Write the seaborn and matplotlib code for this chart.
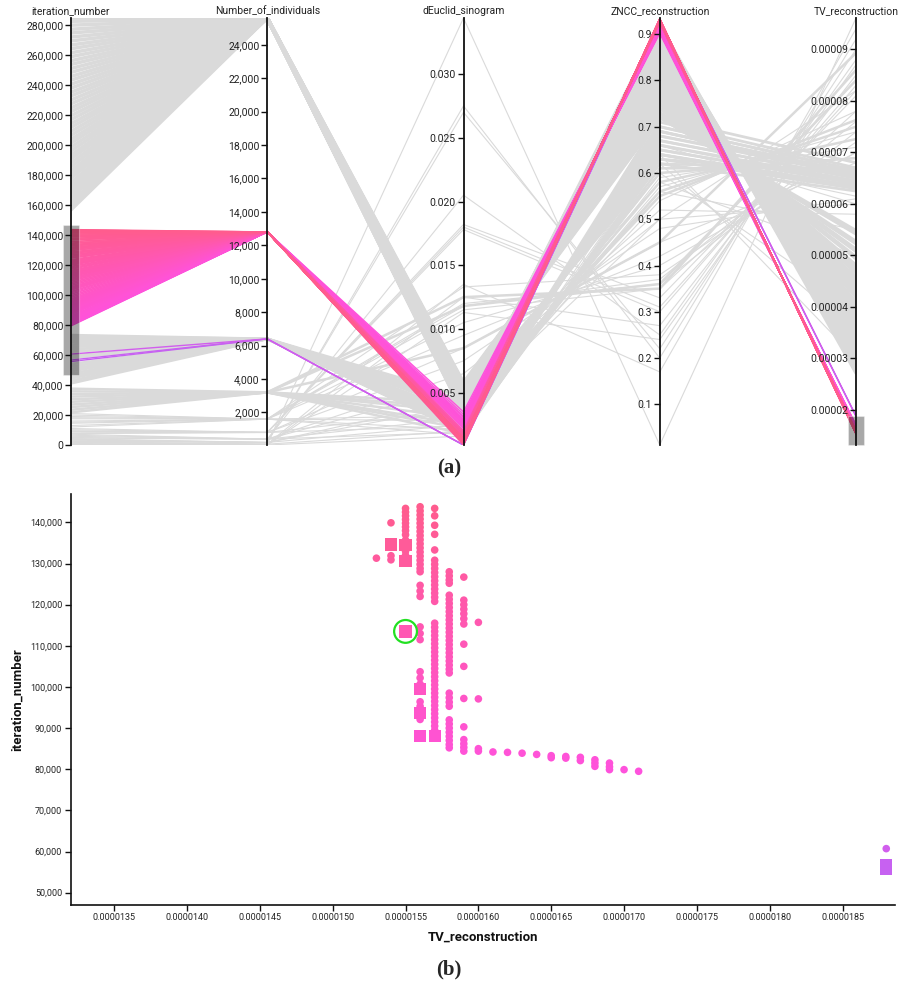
import numpy as np
import pandas as pd
import matplotlib
matplotlib.use("Agg")
import matplotlib.pyplot as plt
import matplotlib.patches as mpatches
from matplotlib.colors import LinearSegmentedColormap, Normalize
from matplotlib.ticker import FixedLocator, FuncFormatter
import seaborn as sns

# ---------------------------------------------------------------- data
dims = ["iteration_number", "Number_of_individuals", "dEuclid_sinogram",
        "ZNCC_reconstruction", "TV_reconstruction"]
axis_min = [0, 50, 0.0009, 0.012, 0.0000132]
axis_max = [285000, 25600, 0.0344, 0.935, 0.0000961]
ticks_iter = [0, 20000, 40000, 60000, 80000, 100000, 120000, 140000, 160000,
              180000, 200000, 220000, 240000, 260000, 280000]
ticks_pop = [2000, 4000, 6000, 8000, 10000, 12000, 14000, 16000, 18000, 20000,
             22000, 24000]
ticks_deuclid = [0.005, 0.010, 0.015, 0.020, 0.025, 0.030]
ticks_zncc = [0.1, 0.2, 0.3, 0.4, 0.5, 0.6, 0.7, 0.8, 0.9]
ticks_tv = [0.00002, 0.00003, 0.00004, 0.00005, 0.00006, 0.00007, 0.00008, 0.00009]

# brushed (selected) ranges
iter_brush = [47000, 146900]
tv_brush = [0.0000132, 0.00001886]

# selected runs (shown in the scatter): one column per TV value
tv_columns = [0.0000153, 0.0000154, 0.0000155, 0.0000156, 0.0000157, 0.0000158,
              0.0000159, 0.0000160, 0.0000161, 0.0000162, 0.0000163, 0.0000164,
              0.0000165, 0.0000166, 0.0000167, 0.0000168, 0.0000169, 0.0000170,
              0.0000171, 0.0000188]
population_by_column = [12800, 12800, 12800, 12800, 12800, 12800, 12800, 12800,
                        12800, 12800, 12800, 12800, 12800, 12800, 12800, 12800,
                        12800, 12800, 12800, 6400]
deuclid_by_column = [0.0009, 0.0010, 0.0011, 0.0012, 0.0014, 0.0016, 0.0018, 0.0020,
                     0.0022, 0.0023, 0.0024, 0.0025, 0.0026, 0.0027, 0.0028, 0.0029,
                     0.0031, 0.0033, 0.0035, 0.0009]
zncc_by_column = [0.934, 0.933, 0.932, 0.931, 0.930, 0.928, 0.926, 0.924, 0.922,
                  0.920, 0.918, 0.916, 0.914, 0.912, 0.910, 0.908, 0.906, 0.904,
                  0.902, 0.925]
iter_circles = [
    [131300],
    [139900, 131900, 130900],
    [143400, 142500, 141600, 140700, 139800, 138900, 138000, 137000, 135700,
     133000, 132000],
    [143800, 142800, 141800, 140800, 139800, 138800, 137800, 136800, 135800,
     134800, 133800, 132800, 131800, 130800, 129800, 128800, 128000, 124700,
     123300, 122000, 114600, 113000, 111500, 103700, 102200, 100700, 96400,
     95300, 94300, 93000, 92100],
    [143400, 141600, 139300, 137100, 133300, 130800, 129800, 128800, 127800,
     126800, 125800, 124800, 123800, 122800, 121800, 120800, 115500, 114500,
     113500, 112500, 111500, 110500, 109500, 108500, 107500, 106500, 105500,
     104500, 103500, 102500, 101500, 100500, 99500, 98500, 97500, 96500, 95500,
     94500, 93500, 92500, 91500, 90500, 89500, 88800],
    [128000, 127000, 126000, 125200, 122300, 121300, 120300, 119300, 118300,
     117300, 116300, 115300, 114300, 113300, 112300, 111300, 110300, 109300,
     108300, 107300, 106300, 105300, 104300, 103400, 98500, 97400, 96300, 95300,
     92000, 91000, 90000, 89000, 88000, 87000, 86000, 85200],
    [126700, 121100, 120000, 118900, 117800, 116600, 115300, 110400, 105000,
     97200, 90300, 87200, 86200, 85300, 84400],
    [115700, 97100, 85000, 84400],
    [84200],
    [84100],
    [83900],
    [83600],
    [83300, 82800],
    [83100, 82700],
    [82900, 82100],
    [82300, 81500, 80700],
    [81500, 80600, 79900],
    [79900],
    [79500],
    [60700],
]
iter_squares = [
    [], [134600], [134500, 130700, 113500], [99500, 93700, 88000], [88000],
    [], [], [], [], [], [], [], [], [], [], [], [], [], [], [56700, 55700],
]
selected_tv = 0.0000155
selected_iter = 113500

# non-selected runs (grey), grouped by population size
iter_A = [157000, 159500, 162000, 164800, 167500, 170000, 172600, 175200, 178000,
          180500, 183000, 185700, 188300, 191000, 193500, 196200, 198800, 201500,
          204000, 206700, 209300, 212000, 214500, 217200, 219800, 222500, 225000,
          227700, 230300, 233000, 235500, 238200, 240800, 243500, 246000, 248700,
          251300, 254000, 256500, 259200, 261800, 264500, 267000, 269700, 272300,
          275000, 277500, 280200, 282800, 285000]
pop_A = 25600
deuclid_A = [0.0049, 0.0034, 0.0042, 0.0055, 0.0037, 0.0046, 0.0035, 0.0058, 0.0040,
             0.0051, 0.0033, 0.0044, 0.0053, 0.0038, 0.0048, 0.0036, 0.0056, 0.0041,
             0.0050, 0.0034, 0.0045, 0.0057, 0.0039, 0.0047, 0.0036, 0.0043, 0.0054,
             0.0040, 0.0049, 0.0035, 0.0044, 0.0056, 0.0038, 0.0046, 0.0034, 0.0042,
             0.0052, 0.0039, 0.0050, 0.0036, 0.0045, 0.0041, 0.0055, 0.0037, 0.0048,
             0.0035, 0.0043, 0.0053, 0.0038, 0.0047]
zncc_A = [0.78, 0.91, 0.84, 0.74, 0.89, 0.81, 0.90, 0.72, 0.86, 0.77, 0.92, 0.83,
          0.75, 0.88, 0.79, 0.90, 0.73, 0.85, 0.77, 0.91, 0.82, 0.72, 0.87, 0.79,
          0.89, 0.83, 0.75, 0.86, 0.78, 0.91, 0.83, 0.73, 0.88, 0.80, 0.90, 0.84,
          0.76, 0.87, 0.77, 0.89, 0.82, 0.85, 0.74, 0.88, 0.79, 0.91, 0.81, 0.76,
          0.87, 0.80]
tv_A = [0.0000457, 0.0000296, 0.0000386, 0.0000512, 0.0000322, 0.0000421,
        0.0000310, 0.0000548, 0.0000361, 0.0000470, 0.0000272, 0.0000398,
        0.0000494, 0.0000338, 0.0000443, 0.0000314, 0.0000527, 0.0000374,
        0.0000466, 0.0000302, 0.0000409, 0.0000542, 0.0000350, 0.0000446,
        0.0000326, 0.0000394, 0.0000497, 0.0000358, 0.0000454, 0.0000284,
        0.0000399, 0.0000523, 0.0000334, 0.0000433, 0.0000313, 0.0000382,
        0.0000481, 0.0000346, 0.0000469, 0.0000327, 0.0000406, 0.0000371,
        0.0000508, 0.0000339, 0.0000442, 0.0000298, 0.0000419, 0.0000478,
        0.0000351, 0.0000430]

iter_B = [41200, 42800, 44500, 46000, 47600, 49300, 50800, 52400, 54000, 58200,
          59600, 62300, 63900, 65500, 67000, 68600, 70200, 71500, 72600, 73300]
pop_B = 6400
deuclid_B = [0.0031, 0.0021, 0.0042, 0.0024, 0.0036, 0.0019, 0.0047, 0.0027, 0.0020,
             0.0039, 0.0023, 0.0033, 0.0019, 0.0044, 0.0025, 0.0038, 0.0020, 0.0029,
             0.0041, 0.0022]
zncc_B = [0.66, 0.70, 0.64, 0.68, 0.65, 0.69, 0.62, 0.67, 0.71, 0.64, 0.69, 0.66,
          0.70, 0.63, 0.68, 0.65, 0.72, 0.67, 0.64, 0.69]
tv_B = [0.0000645, 0.0000665, 0.0000630, 0.0000660, 0.0000640, 0.0000655, 0.0000625,
        0.0000650, 0.0000670, 0.0000635, 0.0000660, 0.0000640, 0.0000665, 0.0000630,
        0.0000655, 0.0000640, 0.0000680, 0.0000650, 0.0000635, 0.0000660]

iter_C = [21800, 23500, 25300, 27000, 28800, 30500, 32300, 34000, 35800, 37600]
pop_C = 3200
deuclid_C = [0.0035, 0.0018, 0.0042, 0.0025, 0.0118, 0.0030, 0.0125, 0.0022, 0.0085,
             0.0038]
zncc_C = [0.58, 0.63, 0.55, 0.61, 0.36, 0.60, 0.35, 0.62, 0.45, 0.56]
tv_C = [0.0000726, 0.0000658, 0.0000763, 0.0000670, 0.0000840, 0.0000689,
        0.0000860, 0.0000665, 0.0000893, 0.0000750]

iter_D = [21000, 20000, 19000, 18200, 17500, 16000, 15200, 14500, 13000, 12000,
          11000, 10200, 9500, 9000, 8800, 8000, 7600, 7200, 6500, 5800, 5000, 4600,
          4200, 3800, 3300, 2800, 2500, 2200, 1800, 1500, 1000, 600, 300]
pop_D = [1600, 1600, 1600, 1600, 1600, 1600, 1600, 1600, 1600, 1600, 800, 800, 800,
         800, 800, 800, 800, 400, 400, 400, 400, 400, 200, 200, 200, 200, 200, 100,
         100, 100, 50, 50, 50]
deuclid_D = [0.0133, 0.0021, 0.0120, 0.0028, 0.0118, 0.0115, 0.0017, 0.0105,
             0.0095, 0.0032, 0.0182, 0.0180, 0.0178, 0.0024, 0.0085, 0.0075, 0.0036,
             0.0205, 0.0065, 0.0055, 0.0030, 0.0019, 0.0275, 0.0270, 0.0045, 0.0025,
             0.0040, 0.0344, 0.0020, 0.0135, 0.0016, 0.0125, 0.0113]
zncc_D = [0.38, 0.64, 0.36, 0.60, 0.37, 0.35, 0.66, 0.40, 0.42, 0.57, 0.33, 0.31,
          0.30, 0.59, 0.45, 0.48, 0.54, 0.25, 0.50, 0.52, 0.56, 0.61, 0.20, 0.22,
          0.58, 0.60, 0.50, 0.012, 0.62, 0.17, 0.64, 0.27, 0.24]
tv_D = [0.0000720, 0.0000615, 0.0000740, 0.0000690, 0.0000760, 0.0000780,
        0.0000600, 0.0000700, 0.0000700, 0.0000740, 0.0000810, 0.0000820,
        0.0000830, 0.0000710, 0.0000680, 0.0000610, 0.0000780, 0.0000880,
        0.0000600, 0.0000580, 0.0000550, 0.0000670, 0.0000920, 0.0000900,
        0.0000500, 0.0000400, 0.0000820, 0.0000961, 0.0000350, 0.0000940,
        0.0000300, 0.0000850, 0.0000870]

# colour scale for the selected runs (by iteration_number)
hue_stop_values = [55000, 80000, 143800]
hue_stop_colors = ["#C462F2", "#FF52DC", "#FF5C8E"]

# ---------------------------------------------------------------- frames
sel_rows = []
for tv, pop, de, zn, circ, sq in zip(tv_columns, population_by_column,
                                     deuclid_by_column, zncc_by_column,
                                     iter_circles, iter_squares):
    for it in circ:
        sel_rows.append((it, pop, de, zn, tv, "circle"))
    for it in sq:
        sel_rows.append((it, pop, de, zn, tv, "square"))
sel = pd.DataFrame(sel_rows, columns=dims + ["shape"])
sel = sel.sort_values("iteration_number").reset_index(drop=True)

grey_parts = [
    (pd.DataFrame({dims[0]: iter_A, dims[1]: pop_A, dims[2]: deuclid_A,
                   dims[3]: zncc_A, dims[4]: tv_A}), 2.5),
    (pd.DataFrame({dims[0]: iter_B, dims[1]: pop_B, dims[2]: deuclid_B,
                   dims[3]: zncc_B, dims[4]: tv_B}), 2.0),
    (pd.DataFrame({dims[0]: iter_C, dims[1]: pop_C, dims[2]: deuclid_C,
                   dims[3]: zncc_C, dims[4]: tv_C}), 1.8),
    (pd.DataFrame({dims[0]: iter_D, dims[1]: pop_D, dims[2]: deuclid_D,
                   dims[3]: zncc_D, dims[4]: tv_D}), 0.8),
]


def to_long(df):
    recs = []
    for run, row in df.iterrows():
        for k, d in enumerate(dims):
            norm = (row[d] - axis_min[k]) / (axis_max[k] - axis_min[k])
            recs.append((run, k, norm, row[dims[0]]))
    return pd.DataFrame(recs, columns=["run", "axis", "norm", "iteration_number"])


sel_long = to_long(sel)

lo, hi = hue_stop_values[0], hue_stop_values[-1]
cmap = LinearSegmentedColormap.from_list(
    "sel", [((v - lo) / (hi - lo), c) for v, c in zip(hue_stop_values, hue_stop_colors)])
hnorm = Normalize(lo, hi)

# ---------------------------------------------------------------- figure
sns.set_theme(style="white")
plt.rcParams["font.family"] = ["Roboto", "DejaVu Sans"]
W, H = 898, 985
fig = plt.figure(figsize=(W / 100, H / 100), dpi=100)

# ---- (a) parallel coordinates
px_left, px_right, px_top, px_bot = 71, 856, 18, 445
ax_pc = fig.add_axes([px_left / W, 1 - px_bot / H, (px_right - px_left) / W,
                      (px_bot - px_top) / H])
for part, lw in grey_parts:
    sns.lineplot(data=to_long(part), x="axis", y="norm", units="run",
                 estimator=None, color="#dadada", linewidth=lw, ax=ax_pc,
                 legend=False)
sns.lineplot(data=sel_long, x="axis", y="norm", units="run", estimator=None,
             hue="iteration_number", palette=cmap, hue_norm=hnorm, linewidth=1.0,
             ax=ax_pc, legend=False)
ax_pc.set_xlim(0, 4)
ax_pc.set_ylim(0, 1)
ax_pc.set_axis_off()

tick_sets = [ticks_iter, ticks_pop, ticks_deuclid, ticks_zncc, ticks_tv]
fmts = [lambda v, p: f"{v:,.0f}", lambda v, p: f"{v:,.0f}",
        lambda v, p: f"{v:.3f}", lambda v, p: f"{v:.1f}", lambda v, p: f"{v:.5f}"]
step = (px_right - px_left) / 4
for k in range(5):
    xpx = px_left + k * step
    a = fig.add_axes([xpx / W, 1 - px_bot / H, 0.0001, (px_bot - px_top) / H])
    a.set_ylim(axis_min[k], axis_max[k])
    a.patch.set_visible(False)
    for s in ["top", "right", "bottom"]:
        a.spines[s].set_visible(False)
    a.spines["left"].set_color("#111111")
    a.spines["left"].set_linewidth(1.3)
    a.set_xticks([])
    a.yaxis.set_major_locator(FixedLocator(tick_sets[k]))
    a.yaxis.set_major_formatter(FuncFormatter(fmts[k]))
    a.tick_params(axis="y", left=True, length=4, width=1.0, color="#111111",
                  labelsize=7.5, pad=1.5, labelcolor="#222222")
    a.grid(False)
    fig.text(xpx / W, 1 - 11 / H, dims[k], ha="center", va="center",
             fontsize=7.5, color="#222222")

half_w = 8 / step
for k, (b0, b1) in [(0, iter_brush), (4, tv_brush)]:
    n0 = (b0 - axis_min[k]) / (axis_max[k] - axis_min[k])
    n1 = (b1 - axis_min[k]) / (axis_max[k] - axis_min[k])
    ax_pc.add_patch(mpatches.Rectangle((k - half_w, n0), 2 * half_w, n1 - n0,
                                       facecolor="#000000", alpha=0.34,
                                       edgecolor="#ffffff", lw=0.8,
                                       clip_on=False, zorder=5))

# ---- (b) scatter
sx_left, sx_right, sy_top, sy_bot = 70.5, 895, 494, 905
ax_sc = fig.add_axes([sx_left / W, 1 - sy_bot / H, (sx_right - sx_left) / W,
                      (sy_bot - sy_top) / H])
circ_df = sel[sel["shape"] == "circle"]
sq_df = sel[sel["shape"] == "square"]
sns.scatterplot(data=circ_df, x="TV_reconstruction", y="iteration_number",
                hue="iteration_number", palette=cmap, hue_norm=hnorm, marker="o",
                s=30, linewidth=0, legend=False, ax=ax_sc)
sns.scatterplot(data=sq_df, x="TV_reconstruction", y="iteration_number",
                hue="iteration_number", palette=cmap, hue_norm=hnorm, marker="s",
                s=78, linewidth=0, legend=False, ax=ax_sc)
ax_sc.scatter([selected_tv], [selected_iter], s=270, facecolors="none",
              edgecolors="#22e022", linewidths=1.6, zorder=6)
ax_sc.set_xlim(tv_brush)
ax_sc.set_ylim(iter_brush)
ax_sc.xaxis.set_major_locator(FixedLocator(
    [0.0000135, 0.0000140, 0.0000145, 0.0000150, 0.0000155, 0.0000160,
     0.0000165, 0.0000170, 0.0000175, 0.0000180, 0.0000185]))
ax_sc.xaxis.set_major_formatter(FuncFormatter(lambda v, p: f"{v:.7f}"))
ax_sc.yaxis.set_major_locator(FixedLocator(
    [50000, 60000, 70000, 80000, 90000, 100000, 110000, 120000, 130000, 140000]))
ax_sc.yaxis.set_major_formatter(FuncFormatter(lambda v, p: f"{v:,.0f}"))
for s in ["top", "right"]:
    ax_sc.spines[s].set_visible(False)
for s in ["left", "bottom"]:
    ax_sc.spines[s].set_color("#111111")
    ax_sc.spines[s].set_linewidth(1.2)
ax_sc.tick_params(axis="both", length=4, width=1.0, color="#111111",
                  labelsize=6.5, pad=2, labelcolor="#222222", left=True,
                  bottom=True)
ax_sc.grid(False)
ax_sc.set_xlabel("TV_reconstruction", fontsize=9.5, fontweight="bold",
                 labelpad=6, color="#111111")
ax_sc.set_ylabel("iteration_number", fontsize=9.5, fontweight="bold",
                 labelpad=4, color="#111111")

fig.text(449 / W, 1 - 468 / H, "(a)", ha="center", va="center", fontsize=15,
         fontweight="bold", family=["Liberation Serif", "DejaVu Serif"])
fig.text(449 / W, 1 - 969 / H, "(b)", ha="center", va="center", fontsize=15,
         fontweight="bold", family=["Liberation Serif", "DejaVu Serif"])

fig.savefig("out.png", dpi=100)
